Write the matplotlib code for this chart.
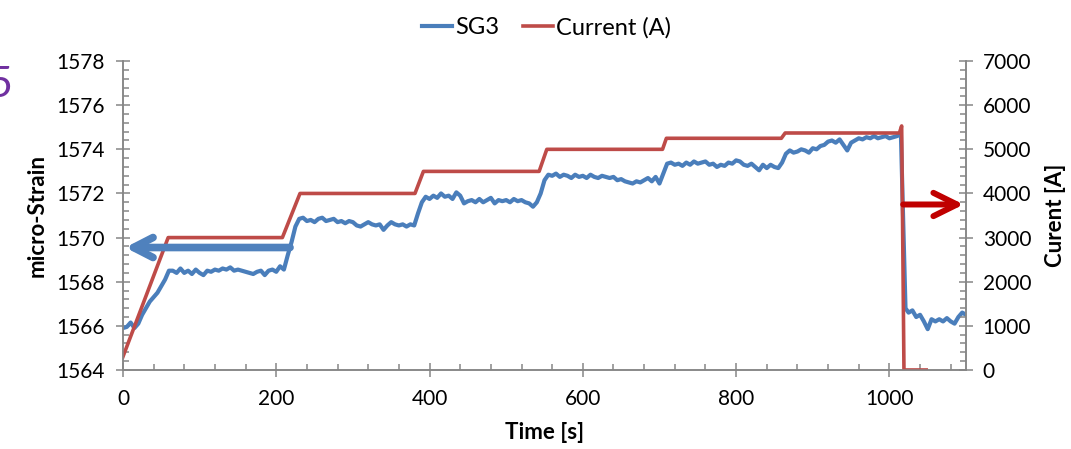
import numpy as np
import matplotlib.pyplot as plt
from matplotlib.ticker import MultipleLocator

plt.rcParams.update({
    'font.family': ['Lato', 'DejaVu Sans'],
    'font.size': 15,
})

# SG3 strain gauge record (micro-strain) vs time
sg3_time = [
    0, 5, 10, 15, 20, 25, 30, 35, 40, 45, 50, 55, 60,
    65, 70, 75, 80, 85, 90, 95, 100, 105, 110, 115, 120, 125, 130, 135, 140,
    145, 150, 155, 160, 165, 170, 175, 180, 185, 190, 195, 200, 205, 210,
    215, 220, 225, 230,
    235, 240, 245, 250, 255, 260, 265, 270, 275, 280, 285, 290, 295, 300,
    305, 310, 315, 320, 325, 330, 335, 340, 345, 350, 355, 360, 365, 370, 375, 380,
    385, 390,
    395, 400, 405, 410, 415, 420, 425, 430, 435, 440, 445, 450, 455, 460,
    465, 470, 475, 480, 485, 490, 495, 500, 505, 510, 515, 520, 525, 530, 535, 540,
    545, 550, 555,
    560, 565, 570, 575, 580, 585, 590, 595, 600, 605, 610, 615, 620, 625,
    630, 635, 640, 645, 650, 655, 660, 665, 670, 675, 680, 685, 690, 695, 700,
    705, 710,
    715, 720, 725, 730, 735, 740, 745, 750, 755, 760, 765, 770, 775, 780,
    785, 790, 795, 800, 805, 810, 815, 820, 825, 830, 835, 840, 845, 850, 855,
    860, 865,
    870, 875, 880, 885, 890, 895, 900, 905, 910, 915, 920, 925, 930, 935,
    940, 945, 950, 955, 960, 965, 970, 975, 980, 985, 990, 995, 1000, 1005,
    1010, 1015,
    1021, 1025, 1030, 1035, 1040, 1045, 1050, 1055, 1060, 1065, 1070, 1075,
    1080, 1085, 1090, 1095, 1100,
]
sg3_strain = [
    1565.9, 1565.95, 1566.15, 1565.9, 1566.1, 1566.5, 1566.8, 1567.1, 1567.3, 1567.5, 1567.8, 1568.1, 1568.5,
    1568.5, 1568.4, 1568.6, 1568.4, 1568.5, 1568.35, 1568.55, 1568.4, 1568.3, 1568.5, 1568.45, 1568.55, 1568.5, 1568.6, 1568.55, 1568.65,
    1568.5, 1568.55, 1568.5, 1568.45, 1568.4, 1568.35, 1568.45, 1568.5, 1568.3, 1568.5, 1568.55, 1568.45, 1568.7, 1568.55,
    1569.2, 1569.8, 1570.5, 1570.85,
    1570.9, 1570.75, 1570.8, 1570.7, 1570.85, 1570.9, 1570.75, 1570.8, 1570.85, 1570.7, 1570.75, 1570.65, 1570.75, 1570.7,
    1570.55, 1570.5, 1570.6, 1570.7, 1570.6, 1570.55, 1570.6, 1570.35, 1570.55, 1570.7, 1570.6, 1570.55, 1570.6, 1570.5, 1570.6, 1570.55,
    1571.1, 1571.6,
    1571.85, 1571.75, 1571.9, 1571.8, 1572.0, 1571.85, 1571.9, 1571.75, 1572.05, 1571.9, 1571.55, 1571.65, 1571.7, 1571.6,
    1571.75, 1571.6, 1571.7, 1571.8, 1571.55, 1571.7, 1571.65, 1571.7, 1571.6, 1571.75, 1571.65, 1571.7, 1571.6, 1571.55, 1571.4, 1571.6,
    1572.0, 1572.6, 1572.85,
    1572.8, 1572.9, 1572.75, 1572.85, 1572.8, 1572.7, 1572.85, 1572.75, 1572.8, 1572.7, 1572.85, 1572.75, 1572.7, 1572.8,
    1572.75, 1572.7, 1572.75, 1572.6, 1572.65, 1572.55, 1572.5, 1572.45, 1572.55, 1572.5, 1572.6, 1572.7, 1572.55, 1572.75, 1572.45,
    1572.9, 1573.35,
    1573.4, 1573.3, 1573.35, 1573.25, 1573.4, 1573.3, 1573.45, 1573.35, 1573.4, 1573.45, 1573.3, 1573.35, 1573.2, 1573.3,
    1573.25, 1573.4, 1573.35, 1573.5, 1573.45, 1573.3, 1573.25, 1573.35, 1573.2, 1573.05, 1573.3, 1573.15, 1573.3, 1573.2, 1573.15,
    1573.4, 1573.8,
    1573.95, 1573.85, 1573.9, 1574.0, 1573.95, 1573.85, 1574.05, 1574.0, 1574.15, 1574.2, 1574.35, 1574.4, 1574.3, 1574.45,
    1574.2, 1573.95, 1574.3, 1574.4, 1574.5, 1574.45, 1574.55, 1574.5, 1574.6, 1574.5, 1574.55, 1574.6, 1574.5, 1574.55,
    1574.6, 1574.7,
    1566.8, 1566.6, 1566.7, 1566.4, 1566.5, 1566.2, 1565.85, 1566.3, 1566.2, 1566.3, 1566.2, 1566.35,
    1566.2, 1566.1, 1566.4, 1566.6, 1566.5,
]

# Applied current steps (A)
cur_time = [0, 59, 208, 231, 381, 392, 543, 553, 704, 709, 859, 864, 1013, 1016, 1019, 1048]
cur_amps = [300, 3000, 3000, 4000, 4000, 4500, 4500, 5000, 5000, 5250, 5250, 5370, 5370, 5530, 0, 0]

blue = '#4a7ebb'
red = '#be4b48'
grey = '#868686'

fig = plt.figure(figsize=(10.71, 4.49), dpi=100)
ax = fig.add_axes([0.1148, 0.176, 0.7872, 0.688])
ax2 = ax.twinx()

l1, = ax.plot(sg3_time, sg3_strain, color=blue, lw=3.0, label='SG3')
l2, = ax2.plot(cur_time, cur_amps, color=red, lw=2.6, label='Current (A)')

ax.set_xlim(0, 1100)
ax.set_ylim(1564, 1578)
ax2.set_ylim(0, 7000)

ax.xaxis.set_major_locator(MultipleLocator(200))
ax.xaxis.set_minor_locator(MultipleLocator(40))
ax.yaxis.set_major_locator(MultipleLocator(2))
ax.yaxis.set_minor_locator(MultipleLocator(0.4))
ax2.yaxis.set_major_locator(MultipleLocator(1000))
ax2.yaxis.set_minor_locator(MultipleLocator(200))

for a in (ax, ax2):
    for s in a.spines.values():
        s.set_color(grey)
        s.set_linewidth(1.1)
    a.spines['top'].set_visible(False)
    a.tick_params(which='major', direction='inout', length=10, width=1.1, color=grey,
                  labelsize=15, labelcolor='black')
    a.tick_params(which='minor', direction='in', length=4.5, width=1.1, color=grey)
ax.tick_params(axis='x', pad=9)
ax.tick_params(axis='y', pad=8)
ax2.tick_params(axis='y', pad=7)

ax.set_xlabel('Time [s]', fontweight='bold', fontsize=16, labelpad=9)
ax.set_ylabel('micro-Strain', fontweight='bold', fontsize=16, labelpad=6)
ax2.set_ylabel('Curent [A]', fontweight='bold', fontsize=16, labelpad=10)

# direction arrows pointing to each series' axis
ax2.annotate('', xy=(3, 1569.55), xytext=(218, 1569.55),
             xycoords=ax.transData, textcoords=ax.transData,
             arrowprops=dict(arrowstyle='->,head_length=0.7,head_width=0.36',
                             color='#4f81bd', lw=5.5, mutation_scale=20,
                             capstyle='round', joinstyle='round',
                             shrinkA=0, shrinkB=0))
ax2.annotate('', xy=(1097, 3750), xytext=(1018, 3750),
             arrowprops=dict(arrowstyle='->,head_length=0.85,head_width=0.42',
                             color='#c00000', lw=4.3, mutation_scale=20,
                             capstyle='round', joinstyle='round',
                             shrinkA=0, shrinkB=0))

fig.legend(handles=[l1, l2], loc='upper center', bbox_to_anchor=(0.51, 1.01),
           ncol=2, frameon=False, fontsize=17, handlelength=1.3,
           handletextpad=0.1, columnspacing=1.0)

fig.text(0.012, 0.81, '5', fontsize=31, color='#7030a0', ha='right', va='center')

fig.savefig('out.png', dpi=100)
